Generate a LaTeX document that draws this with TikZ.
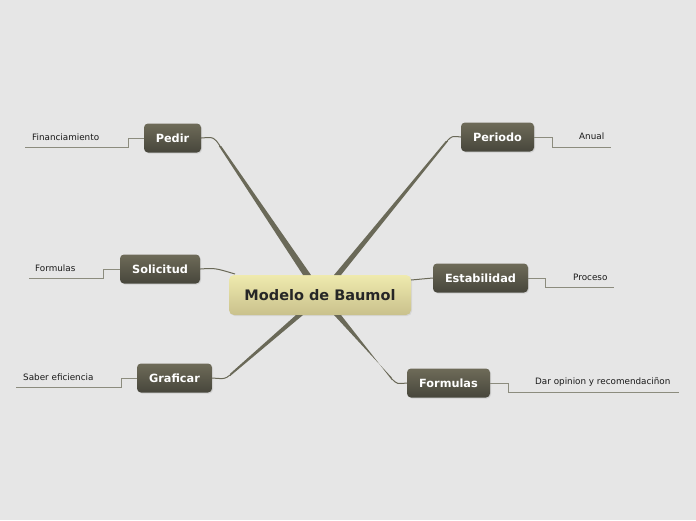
\documentclass[tikz,border=0pt]{standalone}
\usepackage{fontspec}
\setmainfont{DejaVu Sans}
\usetikzlibrary{calc, shadows}

\definecolor{bgGray}{HTML}{E6E6E6}
\definecolor{boxTop}{HTML}{6E6B59}
\definecolor{boxBot}{HTML}{47463B}
\definecolor{hubTop}{HTML}{EFEAAE}
\definecolor{hubBot}{HTML}{C9C18C}
\definecolor{branchCol}{HTML}{6A6958}
\definecolor{leafCol}{HTML}{8C8C7E}

\begin{document}
\begin{tikzpicture}[x=1pt, y=-1pt,
    hub/.style={rounded corners=5pt, top color=hubTop, bottom color=hubBot, draw=none,
        minimum width=182pt, minimum height=40pt, font=\fontsize{14.5}{16}\selectfont\bfseries,
        text=black!85, drop shadow={opacity=0.15, shadow xshift=1pt, shadow yshift=-1pt}},
    topic/.style={rounded corners=4pt, top color=boxTop, bottom color=boxBot, draw=none,
        minimum height=29pt, font=\fontsize{11.3}{13}\selectfont\bfseries, text=white,
        drop shadow={opacity=0.2, shadow xshift=1pt, shadow yshift=-1pt}},
    leaf/.style={font=\fontsize{8.8}{10}\selectfont, text=black!90, inner sep=0pt},
    branch/.style={fill=branchCol},
    twig/.style={draw=branchCol, line width=1pt},
    leafline/.style={draw=leafCol, line width=0.8pt}]

    % --- CANVAS ---
    \fill[bgGray] (0,0) rectangle (696,520);
    \useasboundingbox (0,0) rectangle (696,520);

    % --- CENTRAL NODE ---
    \node[hub] (hub) at (320,295) {Modelo de Baumol};

    % --- MAIN TOPICS ---
    \node[topic, minimum width=57pt] (pedir) at (172.5,138) {Pedir};
    \node[topic, minimum width=73pt] (periodo) at (497.5,137) {Periodo};
    \node[topic, minimum width=80pt] (solicitud) at (160,269) {Solicitud};
    \node[topic, minimum width=95pt] (estab) at (480.5,278) {Estabilidad};
    \node[topic, minimum width=75pt] (graficar) at (174.5,378) {Graficar};
    \node[topic, minimum width=83pt] (formulas) at (448.5,383) {Formulas};

    % --- LEAVES ---
    \node[leaf, anchor=west] (financ) at (32,137) {Financiamiento};
    \node[leaf, anchor=west] (anual) at (579,136) {Anual};
    \node[leaf, anchor=west] (formL) at (35,268) {Formulas};
    \node[leaf, anchor=west] (proceso) at (573,277) {Proceso};
    \node[leaf, anchor=west] (saber) at (23,377) {Saber eficiencia};
    \node[leaf, anchor=west] (dar) at (535,382) {Dar opinion y recomendaciñon};

    % --- BRANCHES (tapered) ---
    % Pedir
    \coordinate (pA) at (303,275); \coordinate (pB) at (311,275);
    \coordinate (pK) at (220,146);
    \fill[branch] (pA) -- (pB) -- ($(pK)+(1.2,0)$) -- ($(pK)+(-1.2,0)$) -- cycle;
    \draw[twig] (pK) .. controls (214,137) .. (pedir.east);
    % Periodo
    \coordinate (rA) at (334,275); \coordinate (rB) at (341,275);
    \coordinate (rK) at (447,141);
    \fill[branch] (rA) -- (rB) -- ($(rK)+(1.2,0)$) -- ($(rK)+(-1.2,0)$) -- cycle;
    \draw[twig] (rK) .. controls (452,136) .. (periodo.west);
    % Graficar
    \coordinate (gA) at (296,315); \coordinate (gB) at (303,315);
    \coordinate (gK) at (230,375);
    \fill[branch] (gA) -- (gB) -- ($(gK)+(0,1.2)$) -- ($(gK)+(0,-1.2)$) -- cycle;
    \draw[twig] (gK) .. controls (225,379) .. (graficar.east);
    % Formulas
    \coordinate (fA) at (334,315); \coordinate (fB) at (341,315);
    \coordinate (fK) at (392,379);
    \fill[branch] (fA) -- (fB) -- ($(fK)+(0,1.2)$) -- ($(fK)+(0,-1.2)$) -- cycle;
    \draw[twig] (fK) .. controls (397,384) .. (formulas.west);
    % Solicitud and Estabilidad (short)
    \coordinate (sK) at (235,274);
    \draw[twig] (sK) .. controls (215,268) .. (solicitud.east);
    \coordinate (eK) at (411,280);
    \draw[twig] (eK) -- (estab.west);

    % --- LEAF LINES ---
    \draw[leafline] (pedir.west) -- (128,138) -- (128,147) -- (25,147);
    \draw[leafline] (periodo.east) -- (552,137) -- (552,147) -- (611,147);
    \draw[leafline] (solicitud.west) -- (103,269) -- (103,278) -- (29,278);
    \draw[leafline] (estab.east) -- (545,278) -- (545,287) -- (614,287);
    \draw[leafline] (graficar.west) -- (121,378) -- (121,387) -- (16,387);
    \draw[leafline] (formulas.east) -- (508,383) -- (508,392) -- (679,392);
\end{tikzpicture}
\end{document}
